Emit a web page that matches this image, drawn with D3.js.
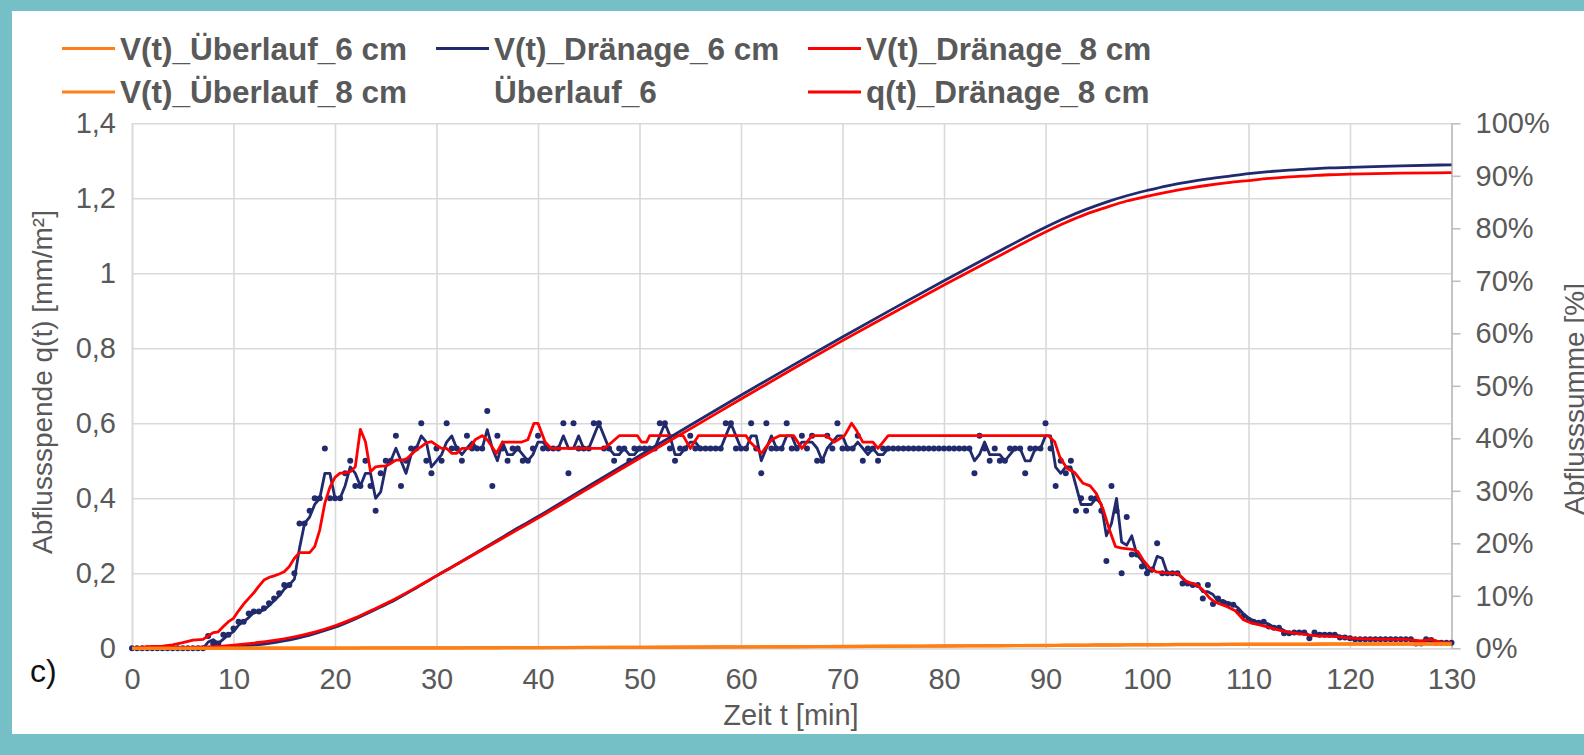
<!DOCTYPE html>
<html><head><meta charset="utf-8">
<script src="https://cdn.jsdelivr.net/npm/d3@7"></script>
<style>html,body{margin:0;padding:0;background:#74C0C6;} svg{display:block;}</style>
</head><body>
<svg id="c" width="1584" height="755"></svg>
<script>
// ---------- data ----------
const tickMinutes = [0,10,20,30,40,50,60,70,80,90,100,110,120,130];
const qTicks = [0,0.2,0.4,0.6,0.8,1,1.2,1.4];
const pctTicks = [0,10,20,30,40,50,60,70,80,90,100];

// q(t) Dränage 6 cm – measured points every 0.5 min (mm/m²)
const dotStep = 0.5;
const qDot6 = [
0,0,0,0,0,0,0,0,0,0,0,0,0,0,0,.033,.013,.013,.036,.036,
.053,.071,.071,.093,.098,.098,.107,.12,.133,.147,.169,.169,.2,.333,.333,.367,.4,.4,.533,.4,
.4,.4,.467,.5,.433,.433,.5,.433,.367,.467,.5,.5,.567,.433,.5,.533,.533,.6,.5,.467,
.533,.5,.6,.533,.533,.5,.567,.533,.533,.533,.633,.433,.567,.533,.5,.533,.533,.5,.5,.533,
.567,.533,.533,.533,.533,.6,.467,.6,.533,.533,.533,.6,.6,.533,.533,.5,.533,.533,.5,.533,
.533,.533,.533,.533,.6,.6,.533,.5,.533,.533,.567,.533,.533,.533,.533,.533,.533,.6,.6,.533,
.533,.533,.6,.533,.467,.6,.533,.533,.533,.6,.533,.533,.567,.533,.567,.5,.5,.567,.533,.6,
.533,.533,.533,.567,.5,.533,.533,.5,.533,.533,.533,.533,.533,.533,.533,.533,.533,.533,.533,.533,
.533,.533,.533,.533,.533,.533,.467,.567,.533,.5,.533,.5,.5,.533,.533,.533,.467,.533,.533,.533,
.6,.533,.433,.5,.467,.5,.367,.4,.367,.4,.4,.367,.233,.433,.367,.2,.35,.25,.25,.218,
.2,.21,.28,.2,.2,.2,.2,.173,.173,.169,.169,.133,.169,.118,.133,.122,.118,.116,.098,.086,
.076,.071,.068,.071,.058,.055,.055,.04,.04,.042,.042,.042,.027,.042,.036,.036,.036,.036,.029,.029,
.027,.024,.024,.024,.024,.024,.024,.024,.024,.024,.024,.024,.024,.013,.013,.024,.022,.015,.015,.015,.015
];

// q(t) Dränage 8 cm (mm/m²)
const q8Time = [0,1,2,3,4,5,6,7,7.5,8,8.5,9,9.5,10,10.5,11,11.5,12,12.5,13,13.5,14,14.5,15,15.5,16,16.5,17,17.5,18,18.5,19,19.5,20,20.5,21,21.5,22,22.5,23,23.5,24,24.5,25,25.5,26,26.5,27,27.5,28,28.5,29,29.5,30,30.5,31,31.5,32,32.5,33.3,33.8,34.5,35,35.9,36.5,38.4,39,39.6,40,40.7,41.3,46.5,47.3,48,49.8,50.2,50.7,51,54.3,55,55.8,60.5,60.9,62,63,63.8,65.2,66,67,68.4,69.2,70.2,70.9,71.4,72,73,73.5,74.5,90.3,90.9,91.4,92.1,92.9,93.7,94.4,95,95.7,96.3,96.9,97.5,98.5,99.1,99.6,100.3,100.9,101.6,103,103.9,104.9,105.5,106.2,106.8,107.9,108.7,109.5,110.2,111.2,112.1,113.4,114.7,116.7,118.7,120,121.3,123.3,125.3,126.3,127,128,129,130];
const q8Val = [0,.003,.005,.006,.009,.015,.022,.024,.033,.042,.044,.058,.071,.08,.1,.118,.133,.148,.166,.182,.189,.193,.198,.204,.218,.24,.255,.255,.255,.271,.316,.387,.43,.456,.467,.468,.471,.484,.584,.551,.471,.484,.486,.486,.493,.502,.502,.504,.516,.529,.538,.548,.551,.542,.533,.533,.52,.52,.533,.533,.556,.567,.556,.52,.55,.55,.556,.6,.6,.55,.533,.533,.55,.567,.567,.55,.55,.567,.567,.533,.567,.567,.55,.52,.556,.567,.567,.533,.567,.567,.55,.567,.6,.58,.55,.55,.533,.567,.567,.551,.511,.48,.468,.44,.433,.413,.369,.316,.271,.267,.264,.258,.236,.213,.204,.202,.2,.178,.169,.156,.133,.122,.111,.1,.076,.068,.062,.055,.046,.04,.033,.031,.027,.025,.024,.024,.022,.02,.024,.015,.015];

// cumulative volumes V(t) in % (right axis)
const vTime   = [0,3,5,8,10,12,14,16,18,20,22,24,26,28,30,32,34,36,38,40,45,50,55,60,65,70,75,80,85,90,92,94,96,98,100,102,104,106,108,110,112,114,116,118,120,125,130];
const vDrain6 = [0,0,0,0.1,0.3,0.6,1.1,1.8,2.8,4.0,5.6,7.4,9.3,11.5,13.8,16.0,18.3,20.6,22.9,25.1,30.9,36.7,42.5,48.2,53.8,59.3,64.7,70.0,75.2,80.2,82.0,83.6,85.0,86.2,87.2,88.1,88.8,89.4,89.9,90.4,90.8,91.1,91.3,91.5,91.6,91.9,92.1];
const vDrain8 = [0,0.05,0.1,0.3,0.6,1.0,1.5,2.2,3.1,4.3,5.8,7.6,9.5,11.6,13.8,16.0,18.2,20.4,22.6,24.8,30.5,36.2,41.8,47.5,53.1,58.6,63.9,69.2,74.3,79.3,81.1,82.7,84.0,85.2,86.1,86.9,87.6,88.2,88.7,89.1,89.5,89.8,90.0,90.2,90.3,90.5,90.6];
const vOver6  = [0,0,0,.01,.02,.02,.03,.04,.04,.05,.06,.07,.07,.08,.09,.1,.11,.12,.13,.14,.17,.2,.24,.28,.32,.36,.41,.46,.51,.56,.59,.62,.65,.68,.7,.72,.74,.76,.78,.79,.8,.81,.82,.83,.84,.85,.86];
const vOver8  = [0,0,0,.01,.01,.02,.02,.03,.03,.04,.05,.06,.06,.07,.08,.09,.1,.1,.11,.12,.15,.18,.21,.25,.29,.33,.37,.42,.47,.52,.55,.58,.61,.63,.65,.67,.69,.71,.72,.73,.74,.75,.76,.77,.78,.79,.8];

const legendItems = [
  {label:"V(t)_Überlauf_6 cm", color:"#FF7F17", col:0,row:0},
  {label:"V(t)_Dränage_6 cm",  color:"#212A6C", col:1,row:0},
  {label:"V(t)_Dränage_8 cm",  color:"#FF0000", col:2,row:0},
  {label:"V(t)_Überlauf_8 cm", color:"#FF7F17", col:0,row:1},
  {label:"Überlauf_6",         color:null,      col:1,row:1},
  {label:"q(t)_Dränage_8 cm",  color:"#FF0000", col:2,row:1}
];

// ---------- drawing ----------
const W=1584,H=755;
const P={left:132,right:1451.5,top:123.3,bottom:648.3};
const NAVY="#212A6C", RED="#FF0000", ORANGE="#FF7F17", GRID="#D9D9D9", TXT="#595959";
const FONT="'Liberation Sans', Arial, sans-serif";

const svg=d3.select('#c');
svg.append('rect').attr('width',W).attr('height',H).attr('fill','#74C0C6');
svg.append('rect').attr('x',12).attr('y',11).attr('width',W-12).attr('height',723).attr('fill','#fff');

const x=d3.scaleLinear().domain([0,130]).range([P.left,P.right]);
const y=d3.scaleLinear().domain([0,1.4]).range([P.bottom,P.top]);
const yR=d3.scaleLinear().domain([0,100]).range([P.bottom,P.top]);

function styleAxis(g){
  g.selectAll('text').attr('fill',TXT).style('font-family',FONT).style('font-size','29px');
}
// left axis + horizontal grid
const gL=svg.append('g').attr('transform',`translate(${P.left},0)`)
  .call(d3.axisLeft(y).tickValues(qTicks).tickSize(-(P.right-P.left)).tickPadding(16)
    .tickFormat(d=>String(d).replace('.',',')));
gL.select('.domain').remove();
gL.selectAll('line').attr('stroke',GRID).attr('stroke-width',1.6);
styleAxis(gL);

// bottom axis + vertical grid
const gB=svg.append('g').attr('transform',`translate(0,${P.bottom})`)
  .call(d3.axisBottom(x).tickValues(tickMinutes).tickSize(-(P.bottom-P.top)).tickPadding(20));
gB.select('.domain').attr('stroke',GRID).attr('stroke-width',1.6);
gB.selectAll('line').attr('stroke',GRID).attr('stroke-width',1.6);
styleAxis(gB);

// right axis
const gR=svg.append('g').attr('transform',`translate(${P.right},0)`)
  .call(d3.axisRight(yR).tickValues(pctTicks).tickSize(9).tickSizeOuter(0).tickPadding(15)
    .tickFormat(d=>d+"%"));
gR.select('.domain').attr('stroke','#BFBFBF').attr('stroke-width',1.6);
gR.selectAll('line').attr('stroke','#BFBFBF').attr('stroke-width',1.6);
styleAxis(gR);

// axis titles
svg.append('text').attr('x',791).attr('y',725).attr('text-anchor','middle')
  .attr('fill',TXT).style('font-family',FONT).style('font-size','29px').text('Zeit t [min]');
svg.append('text').attr('transform','translate(52,382) rotate(-90)').attr('text-anchor','middle')
  .attr('fill',TXT).style('font-family',FONT).style('font-size','28px').text('Abflussspende q(t) [mm/m²]');
svg.append('text').attr('transform','translate(1584,399) rotate(-90)').attr('text-anchor','middle')
  .attr('fill',TXT).style('font-family',FONT).style('font-size','28px').text('Abflusssumme [%]');
svg.append('text').attr('x',30).attr('y',682)
  .attr('fill','#111').style('font-family',FONT).style('font-size','32px').text('c)');

// series
const plot=svg.append('g');
const dots=qDot6.map((v,i)=>({t:i*dotStep,v}));
// moving-average (period 2) trendline of the measured 6 cm points
const ma=dots.slice(1).map((d,i)=>({t:d.t,v:(d.v+dots[i].v)/2}));
const lineQ=d3.line().x(d=>x(d.t)).y(d=>y(d.v));
plot.append('path').datum(ma).attr('d',lineQ).attr('fill','none').attr('stroke',NAVY).attr('stroke-width',2.8).attr('stroke-linejoin','round');
plot.selectAll('circle.dot').data(dots).join('circle').attr('class','dot')
  .attr('cx',d=>x(d.t)).attr('cy',d=>y(d.v)).attr('r',3).attr('fill',NAVY);

const q8=q8Time.map((t,i)=>({t,v:q8Val[i]}));
plot.append('path').datum(q8).attr('d',lineQ).attr('fill','none').attr('stroke',RED).attr('stroke-width',2.8).attr('stroke-linejoin','round');

const lineV=d3.line().curve(d3.curveMonotoneX).x(d=>x(d.t)).y(d=>yR(d.v));
function vSeries(arr){return vTime.map((t,i)=>({t,v:arr[i]}));}
plot.append('path').datum(vSeries(vDrain6)).attr('d',lineV).attr('fill','none').attr('stroke',NAVY).attr('stroke-width',2.8);
plot.append('path').datum(vSeries(vDrain8)).attr('d',lineV).attr('fill','none').attr('stroke',RED).attr('stroke-width',2.8);
plot.append('path').datum(vSeries(vOver8)).attr('d',lineV).attr('fill','none').attr('stroke',ORANGE).attr('stroke-width',3.2);
plot.append('path').datum(vSeries(vOver6)).attr('d',lineV).attr('fill','none').attr('stroke',ORANGE).attr('stroke-width',3.2);

// legend
const colX=[62,436,808], rowY=[48.5,92];
const lg=svg.append('g');
legendItems.forEach(it=>{
  const x0=colX[it.col], yy=rowY[it.row];
  if(it.color) lg.append('line').attr('x1',x0).attr('x2',x0+53).attr('y1',yy).attr('y2',yy)
    .attr('stroke',it.color).attr('stroke-width',3);
  lg.append('text').attr('x',x0+58).attr('y',yy).attr('dominant-baseline','central')
    .attr('fill',TXT).style('font-family',FONT).style('font-size','31.5px').style('font-weight','bold').text(it.label);
});
</script>
</body></html>
